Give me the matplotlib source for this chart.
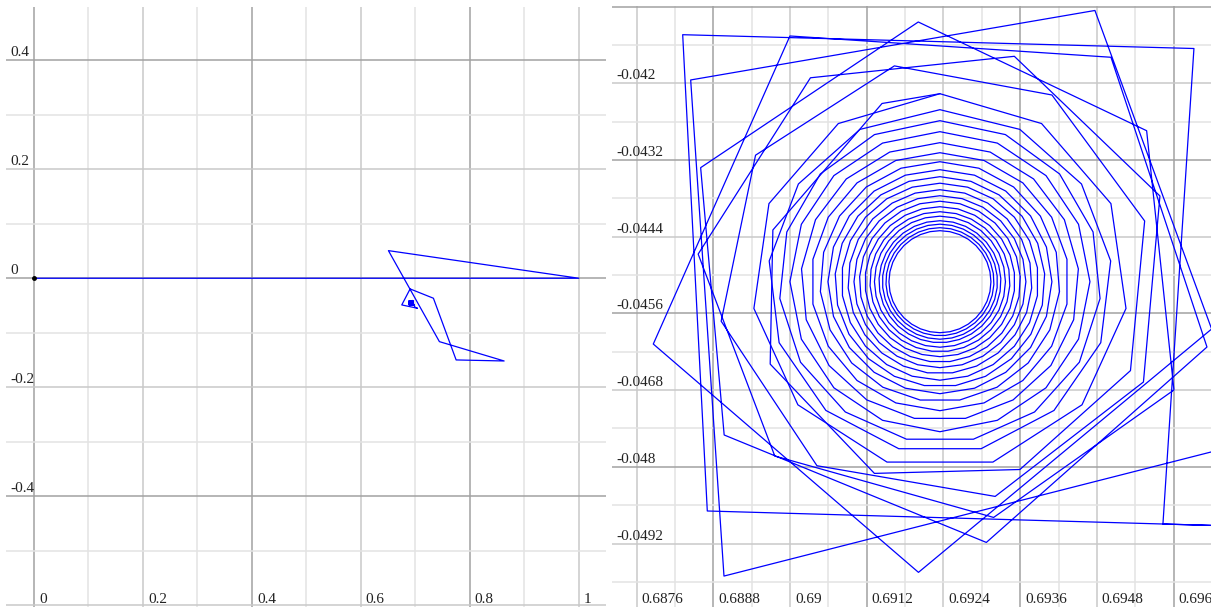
import numpy as np
import matplotlib.pyplot as plt
from matplotlib.patches import RegularPolygon

plt.rcParams['font.family'] = ['Liberation Serif', 'DejaVu Serif']

path_x = [0, 1, 0.6506, 0.7442, 0.8630, 0.7749, 0.7332, 0.6904, 0.6751, 0.7039,
          0.6990, 0.697978, 0.688705, 0.688320, 0.696319, 0.695834, 0.697978,
          0.697039, 0.688966, 0.688445, 0.694770, 0.696596, 0.692009, 0.687860,
          0.689998, 0.695021, 0.696523, 0.693071, 0.688969, 0.688601, 0.692006,
          0.695579, 0.696006, 0.693185, 0.689761, 0.688562, 0.690319, 0.693509,
          0.695787, 0.695529, 0.693209, 0.690421, 0.688922, 0.689460, 0.691632,
          0.694097, 0.695548, 0.695326, 0.693597, 0.691320, 0.689689, 0.689731,
          0.691439, 0.692345]
path_y = [0, 0, 0.0507, -0.1164, -0.1519, -0.1500, -0.0367, -0.0196, -0.0490, -0.0551,
          -0.0530, -0.048956, -0.048691, -0.041240, -0.041456, -0.048895, -0.048956,
          -0.047653, -0.049709, -0.041948, -0.040861, -0.045844, -0.049651, -0.046079,
          -0.041260, -0.041593, -0.046126, -0.049183, -0.047502, -0.043320, -0.041041,
          -0.042742, -0.046798, -0.048792, -0.047831, -0.044672, -0.041914, -0.041578,
          -0.043763, -0.046673, -0.048463, -0.047983, -0.045722, -0.043125, -0.041728,
          -0.042183, -0.044154, -0.046495, -0.048042, -0.048103, -0.046393, -0.044295,
          -0.042316, -0.042163]

# inner turns of the spiral, read as rings around the limit point
limit_x, limit_y = 0.692345, -0.045104
ring_radius = [0.000798, 0.000845, 0.000900, 0.000954, 0.001025, 0.001095, 0.001173,
               0.001259, 0.001345, 0.001439, 0.001541, 0.001643, 0.001752, 0.001877,
               0.002018, 0.002175, 0.002347, 0.002519, 0.002691, 0.002941]
ring_sides = [32, 31, 30, 29, 28, 27, 26, 25, 24, 23, 22, 21, 20, 19, 18, 17, 16, 15,
              13, 11]

left_xticks = [0, 0.2, 0.4, 0.6, 0.8, 1]
left_xlabels = ['0', '0.2', '0.4', '0.6', '0.8', '1']
left_yticks = [0.4, 0.2, 0, -0.2, -0.4]
left_ylabels = ['0.4', '0.2', '0', '-0.2', '-0.4']

right_xticks = [0.6876, 0.6888, 0.69, 0.6912, 0.6924, 0.6936, 0.6948, 0.696]
right_xlabels = ['0.6876', '0.6888', '0.69', '0.6912', '0.6924', '0.6936', '0.6948', '0.696']
right_yticks = [-0.042, -0.0432, -0.0444, -0.0456, -0.0468, -0.048, -0.0492]
right_ylabels = ['-0.042', '-0.0432', '-0.0444', '-0.0456', '-0.0468', '-0.048', '-0.0492']


def draw_grid(ax, step):
    for lim, line in ((ax.get_xlim(), ax.axvline), (ax.get_ylim(), ax.axhline)):
        k0 = int(np.ceil(min(lim) / step - 1e-6))
        k1 = int(np.floor(max(lim) / step + 1e-6))
        for k in range(k0, k1 + 1):
            if k % 4 == 0:
                c = '#a2a2a2'
            elif k % 2 == 0:
                c = '#c9c9c9'
            else:
                c = '#e3e3e3'
            line(k * step, color=c, lw=1.1, zorder=0)


def draw_panel(ax, xlim, ylim, step, xt, xl, yt, yl):
    ax.set_xlim(*xlim)
    ax.set_ylim(*ylim)
    for s in ax.spines.values():
        s.set_visible(False)
    ax.set_xticks([])
    ax.set_yticks([])
    draw_grid(ax, step)
    ax.plot(path_x, path_y, color='#0000ff', lw=0.9, zorder=3)
    for r, n in zip(ring_radius, ring_sides):
        ax.add_patch(RegularPolygon((limit_x, limit_y), n, radius=r, fill=False,
                                    edgecolor='#0000ff', lw=0.9, zorder=3))
    for v, s in zip(xt, xl):
        ax.annotate(s, xy=(v, 0), xycoords=('data', 'axes fraction'),
                    xytext=(5, 4), textcoords='offset pixels',
                    fontsize=11, color='#222222', va='baseline', ha='left')
    for v, s in zip(yt, yl):
        ax.annotate(s, xy=(0, v), xycoords=('axes fraction', 'data'),
                    xytext=(4, 4), textcoords='offset pixels',
                    fontsize=11, color='#222222', va='baseline', ha='left')


fig = plt.figure(figsize=(12.11, 6.07), dpi=100)
ax1 = fig.add_axes([6 / 1211, 0, 600 / 1211, 600 / 607])
ax2 = fig.add_axes([612 / 1211, 0, 599 / 1211, 601 / 607])

draw_panel(ax1, (-0.0514, 1.050), (-0.6036, 0.498), 0.1,
           left_xticks, left_xlabels, left_yticks, left_ylabels)
ax1.plot(path_x[0], path_y[0], 'o', color='black', ms=2.5, zorder=4)

draw_panel(ax2, (0.687214, 0.696586), (-0.050193, -0.040791), 0.0006,
           right_xticks, right_xlabels, right_yticks, right_ylabels)

fig.savefig('out.png', dpi=100)
